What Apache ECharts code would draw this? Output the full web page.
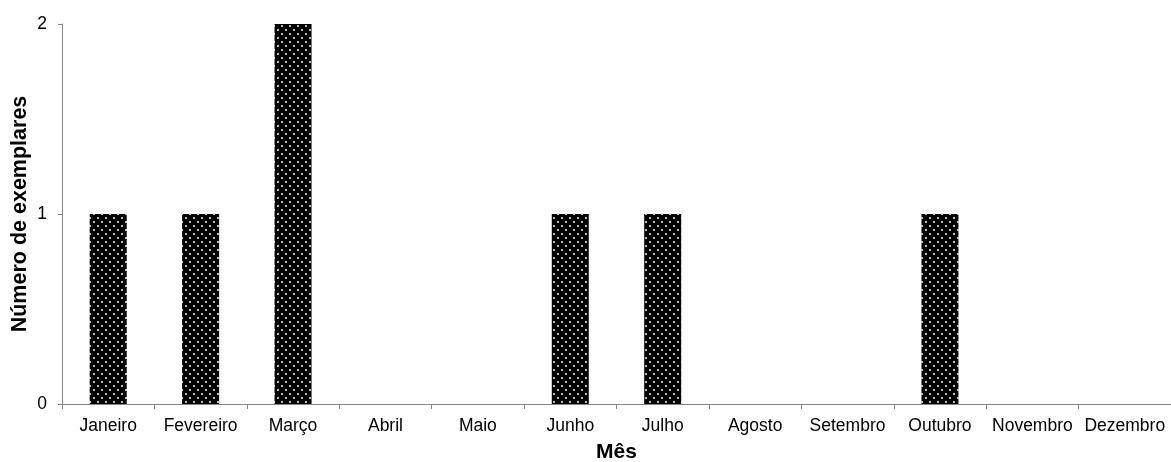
<!DOCTYPE html>
<html><head><meta charset="utf-8">
<script src="https://cdn.jsdelivr.net/npm/echarts@6/dist/echarts.min.js"></script>
<style>html,body{margin:0;padding:0;background:#fff}#c{width:1171px;height:462px}</style>
</head><body><div id="c"></div>
<script>
const categories = ['Janeiro','Fevereiro','Março','Abril','Maio','Junho','Julho','Agosto','Setembro','Outubro','Novembro','Dezembro'];
const values = [1,1,2,0,0,1,1,0,0,1,0,0];
const yTicks = [0,1,2];

function makePattern(){
  const c = document.createElement('canvas');
  c.width = 8; c.height = 8;
  const g = c.getContext('2d');
  g.fillStyle = '#000'; g.fillRect(0,0,8,8);
  g.fillStyle = '#b8b8b8';
  g.fillRect(1,1,2,2);
  g.fillRect(5,5,2,2);
  return c;
}

const chart = echarts.init(document.getElementById('c'), null, {renderer:'canvas'});
const font = 'Liberation Sans, Arial, sans-serif';
chart.setOption({
  animation:false,
  grid:{left:62, top:24, right:0, bottom:58, containLabel:false, outerBoundsMode:'none'},
  xAxis:{
    type:'category', data:categories,
    axisLine:{lineStyle:{color:'#868686', width:1}},
    axisTick:{show:true, alignWithLabel:false, length:5, lineStyle:{color:'#868686'}},
    axisLabel:{color:'#000', fontFamily:font, fontSize:17.5, margin:13, interval:0},
    name:'Mês', nameLocation:'middle', nameGap:38, nameMoveOverlap:false,
    nameTextStyle:{color:'#000', fontFamily:font, fontSize:21, fontWeight:'bold'}
  },
  yAxis:{
    type:'value', min:0, max:2, interval:1,
    axisLine:{show:true, lineStyle:{color:'#868686', width:1}},
    axisTick:{show:true, length:4, lineStyle:{color:'#868686'}},
    splitLine:{show:false},
    axisLabel:{color:'#000', fontFamily:font, fontSize:17.5, margin:15,
      formatter: v => yTicks.includes(v) ? String(v) : ''},
    name:'Número de exemplares', nameLocation:'middle', nameGap:31, nameMoveOverlap:false,
    nameTextStyle:{color:'#000', fontFamily:font, fontSize:21.5, fontWeight:'bold'}
  },
  series:[{
    type:'bar', data:values, barWidth:37,
    itemStyle:{color:{image:makePattern(), repeat:'repeat'}}
  }]
});
</script></body></html>
